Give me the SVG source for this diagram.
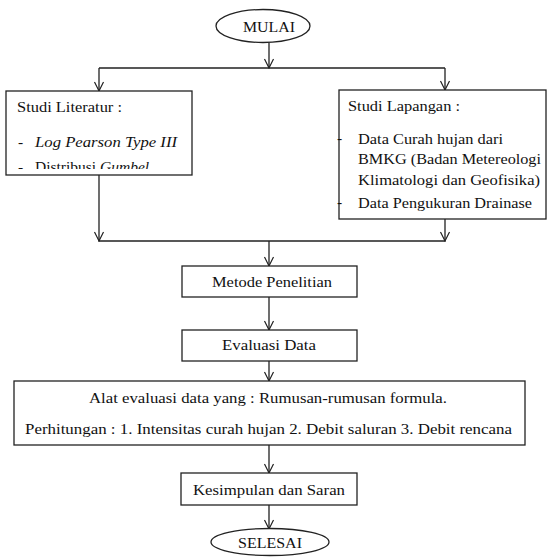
<svg xmlns="http://www.w3.org/2000/svg" width="552" height="558" viewBox="0 0 552 558">
<defs>
<style>
.b{fill:#fff;stroke:#222;stroke-width:1.3}
.c{fill:none;stroke:#222;stroke-width:1.3}
.a{fill:none;stroke:#222;stroke-width:1.2}
</style>
<clipPath id="clipL"><rect x="6" y="91" width="186" height="78"/></clipPath>
</defs>
<rect width="552" height="558" fill="#fff"/>
<g id="connectors">
<path class="c" d="M269 43V68M99 68H445M99 68V91M445 68V90"/>
<path class="a" d="M264.5 59L269 68L273.5 59M94.5 82L99 91L103.5 82M440.5 81L445 90L449.5 81"/>
<path class="c" d="M99 175V241H445V219M269 241V266"/>
<path class="a" d="M94.5 232L99 241L103.5 232M440.5 232L445 241L449.5 232M264.5 257L269 266L273.5 257"/>
<path class="c" d="M269 297V330M269 361V381M269 445V473M269 505V529"/>
<path class="a" d="M264.5 321L269 330L273.5 321M264.5 372L269 381L273.5 372M264.5 464L269 473L273.5 464M264.5 520L269 529L273.5 520"/>
</g>
<g font-family="Liberation Serif" font-size="15.5" fill="#111">
<g id="mulai">
<ellipse class="b" cx="263" cy="26" rx="47" ry="16.5"/>
<text x="269" y="32" text-anchor="middle" textLength="52" lengthAdjust="spacingAndGlyphs">MULAI</text>
</g>
<g id="studi-literatur">
<rect class="b" x="6" y="91" width="186" height="84"/>
<text x="17" y="112" textLength="105" lengthAdjust="spacingAndGlyphs">Studi Literatur :</text>
<text x="18" y="147">-</text>
<text x="35" y="147" font-style="italic" textLength="142" lengthAdjust="spacingAndGlyphs">Log Pearson Type III</text>
<g clip-path="url(#clipL)">
<text x="18" y="172">-</text>
<text x="35" y="172">Distribusi <tspan font-style="italic">Gumbel</tspan></text>
</g>
</g>
<g id="studi-lapangan">
<rect class="b" x="339" y="90" width="207" height="129"/>
<text x="348" y="111" textLength="112" lengthAdjust="spacingAndGlyphs">Studi Lapangan :</text>
<text x="337" y="143">-</text>
<text x="358" y="144" textLength="145" lengthAdjust="spacingAndGlyphs">Data Curah hujan dari</text>
<text x="358" y="164" textLength="183" lengthAdjust="spacingAndGlyphs">BMKG (Badan Metereologi</text>
<text x="358" y="185" textLength="182" lengthAdjust="spacingAndGlyphs">Klimatologi dan Geofisika)</text>
<text x="337" y="207">-</text>
<text x="358" y="208" textLength="174" lengthAdjust="spacingAndGlyphs">Data Pengukuran Drainase</text>
</g>
<g id="metode">
<rect class="b" x="182" y="266" width="175" height="31"/>
<text x="272" y="287" text-anchor="middle" textLength="120" lengthAdjust="spacingAndGlyphs">Metode Penelitian</text>
</g>
<g id="evaluasi">
<rect class="b" x="182" y="330" width="175" height="31"/>
<text x="269" y="350" text-anchor="middle" textLength="94" lengthAdjust="spacingAndGlyphs">Evaluasi Data</text>
</g>
<g id="alat">
<rect class="b" x="14" y="381" width="511" height="64"/>
<text x="268" y="403" text-anchor="middle" textLength="358" lengthAdjust="spacingAndGlyphs">Alat evaluasi data yang : Rumusan-rumusan formula.</text>
<text x="25" y="434" textLength="487" lengthAdjust="spacingAndGlyphs">Perhitungan : 1. Intensitas curah hujan 2. Debit saluran 3. Debit rencana</text>
</g>
<g id="kesimpulan">
<rect class="b" x="181" y="473" width="176" height="32"/>
<text x="269" y="495" text-anchor="middle" textLength="152" lengthAdjust="spacingAndGlyphs">Kesimpulan dan Saran</text>
</g>
<g id="selesai">
<ellipse class="b" cx="270" cy="542" rx="59" ry="13.5"/>
<text x="270" y="548" text-anchor="middle" textLength="64" lengthAdjust="spacingAndGlyphs">SELESAI</text>
</g>
</g>
</svg>
